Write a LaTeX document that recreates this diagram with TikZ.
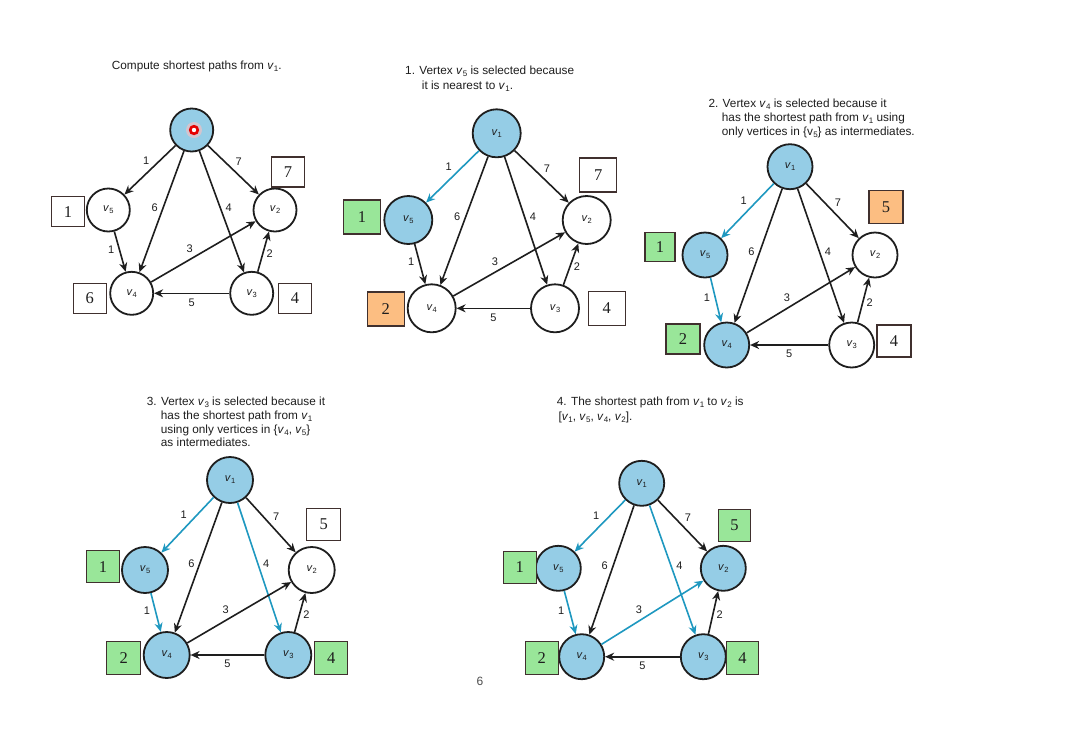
\documentclass[tikz,border=0pt]{standalone}
\usepackage{fontspec}
\setmainfont{Liberation Sans}
\newfontfamily\serifnum{Liberation Serif}
\usetikzlibrary{arrows.meta}
\definecolor{nodeblue}{RGB}{149,205,230}
\definecolor{edgeblue}{RGB}{30,152,192}
\definecolor{boxgreen}{RGB}{153,230,153}
\definecolor{boxorange}{RGB}{252,190,130}
\definecolor{boxline}{RGB}{64,48,46}
\definecolor{ink}{RGB}{30,30,30}
\newcommand\vsub[2]{\textit{v}\kern0.2pt\raisebox{-0.35ex}{\fontsize{#2}{#2}\selectfont #1}}
\newcommand\nv[1]{\vsub{#1}{7.5}}
\newcommand\tv[1]{\vsub{#1}{8}}
\begin{document}
\begin{tikzpicture}[x=1pt,y=-1pt,
 vtx/.style={circle,draw=ink,line width=1.8pt,inner sep=0pt,fill=white,font=\fontsize{11}{11}\selectfont,text=ink},
 seen/.style={vtx,fill=nodeblue},
 arr/.style={draw=ink,line width=1.6pt,-{Stealth[length=9pt,width=8pt]}},
 barr/.style={arr,draw=edgeblue},
 elab/.style={font=\fontsize{11}{11}\selectfont,text=ink,inner sep=1.5pt},
 dbox/.style={draw=boxline,line width=1.1pt,fill=white,font=\serifnum\fontsize{16.5}{16.5}\selectfont,text=ink,inner sep=0pt,minimum width=33pt,minimum height=31pt},
 gbox/.style={dbox,fill=boxgreen},
 obox/.style={dbox,fill=boxorange},
 ttl/.style={font=\fontsize{11.8}{11.8}\selectfont,text=ink,inner sep=0pt,anchor=base west},
]
\useasboundingbox (0,0) rectangle (1090,748);
\fill[white] (0,0) rectangle (1090,748);

% ---------------- Panel 1 ----------------
\node[ttl] (t1) at (111.7,69) {Compute shortest paths from \tv{1}.};
\node[seen,minimum size=43pt] (a1) at (191.7,130) {};
\node[vtx,minimum size=43pt] (a5) at (108.3,210) {\nv{5}};
\node[vtx,minimum size=43pt] (a2) at (275,210) {\nv{2}};
\node[vtx,minimum size=43pt] (a4) at (131.7,293.3) {\nv{4}};
\node[vtx,minimum size=43pt] (a3) at (251.7,293.3) {\nv{3}};
\draw[arr] (a1) -- node[elab,pos=.45,above left=1pt]{1} (a5);
\draw[arr] (a1) -- node[elab,pos=.48,above right=1pt]{7} (a2);
\draw[arr] (a1) -- node[elab,pos=.47,left=3pt]{6} (a4);
\draw[arr] (a1) -- node[elab,pos=.47,right=3pt]{4} (a3);
\draw[arr] (a5) -- node[elab,pos=.45,left=3pt]{1} (a4);
\draw[arr] (a4) -- node[elab,pos=.43,above left=1pt]{3} (a2);
\draw[arr] (a3) -- node[elab,pos=.45,right=1.5pt]{2} (a2);
\draw[arr] (a3) -- node[elab,pos=.5,below=3pt]{5} (a4);
\node[dbox,minimum width=33pt,minimum height=30pt] (ab1) at (68,211.7) {1};
\node[dbox,minimum width=33pt,minimum height=30pt] (ab2) at (288,172) {7};
\node[dbox,minimum width=33pt,minimum height=30pt] (ab4) at (89.7,298.3) {6};
\node[dbox,minimum width=33pt,minimum height=30pt] (ab3) at (295,298.3) {4};
\fill[red!25,opacity=.6] (194,130) circle (8);
\fill[red!90!black] (194,130) circle (5.2);
\fill[white] (194,130) circle (2.2);

% ---------------- Panel 2 ----------------
\node[ttl] (t2a) at (405,74) {1. Vertex \tv{5} is selected because};
\node[ttl] (t2b) at (421.7,89) {it is nearest to \tv{1}.};
\node[seen,minimum size=48pt] (b1) at (496.7,133.3) {\nv{1}};
\node[seen,minimum size=48pt] (b5) at (408.3,220) {\nv{5}};
\node[vtx,minimum size=48pt] (b2) at (586.7,220) {\nv{2}};
\node[vtx,minimum size=48pt] (b4) at (431.7,308.3) {\nv{4}};
\node[vtx,minimum size=48pt] (b3) at (555,308.3) {\nv{3}};
\draw[barr] (b1) -- node[elab,pos=.45,above left=1pt]{1} (b5);
\draw[arr] (b1) -- node[elab,pos=.48,above right=1pt]{7} (b2);
\draw[arr] (b1) -- node[elab,pos=.47,left=3pt]{6} (b4);
\draw[arr] (b1) -- node[elab,pos=.47,right=3pt]{4} (b3);
\draw[arr] (b5) -- node[elab,pos=.45,left=3pt]{1} (b4);
\draw[arr] (b4) -- node[elab,pos=.43,above left=1pt]{3} (b2);
\draw[arr] (b3) -- node[elab,pos=.45,right=1.5pt]{2} (b2);
\draw[arr] (b3) -- node[elab,pos=.5,below=3pt]{5} (b4);
\node[gbox,minimum width=37pt,minimum height=34pt] (bb1) at (362,217) {1};
\node[dbox,minimum width=37pt,minimum height=34pt] (bb2) at (598.3,175) {7};
\node[obox,minimum width=37pt,minimum height=34pt] (bb4) at (385.7,309) {2};
\node[dbox,minimum width=37pt,minimum height=34pt] (bb3) at (606.7,308.3) {4};

% ---------------- Panel 3 ----------------
\node[ttl] (t3a) at (708.3,107.3) {2. Vertex \tv{4} is selected because it};
\node[ttl] (t3b) at (721.7,121.3) {has the shortest path from \tv{1} using};
\node[ttl] (t3c) at (721.7,135.7) {only vertices in \{v\kern0.2pt\raisebox{-0.35ex}{\fontsize{8}{8}\selectfont 5}\} as intermediates.};
\node[seen,minimum size=45pt] (c1) at (790,166.7) {\nv{1}};
\node[seen,minimum size=45pt] (c5) at (705,255) {\nv{5}};
\node[vtx,minimum size=45pt] (c2) at (875,255) {\nv{2}};
\node[seen,minimum size=45pt] (c4) at (726.7,345) {\nv{4}};
\node[vtx,minimum size=45pt] (c3) at (851.7,345) {\nv{3}};
\draw[barr] (c1) -- node[elab,pos=.45,above left=1pt]{1} (c5);
\draw[arr] (c1) -- node[elab,pos=.48,above right=1pt]{7} (c2);
\draw[arr] (c1) -- node[elab,pos=.47,left=3pt]{6} (c4);
\draw[arr] (c1) -- node[elab,pos=.47,right=3pt]{4} (c3);
\draw[barr] (c5) -- node[elab,pos=.45,left=3pt]{1} (c4);
\draw[arr] (c4) -- node[elab,pos=.43,above left=1pt]{3} (c2);
\draw[arr] (c3) -- node[elab,pos=.45,right=1.5pt]{2} (c2);
\draw[arr] (c3) -- node[elab,pos=.5,below=3pt]{5} (c4);
\node[gbox,minimum width=30pt,minimum height=29pt] (cb1) at (660,247) {1};
\node[obox,minimum width=34pt,minimum height=33pt] (cb2) at (886,206.7) {5};
\node[gbox,minimum width=34pt,minimum height=30pt] (cb4) at (683,339) {2};
\node[dbox,minimum width=34pt,minimum height=32pt] (cb3) at (894,341) {4};

% ---------------- Panel 4 ----------------
\node[ttl] (t4a) at (146.7,405.7) {3. Vertex \tv{3} is selected because it};
\node[ttl] (t4b) at (160.7,419) {has the shortest path from \tv{1}};
\node[ttl] (t4c) at (160.7,433) {using only vertices in \{\tv{4}, \tv{5}\}};
\node[ttl] (t4d) at (160.7,446.7) {as intermediates.};
\node[seen,minimum size=46pt] (d1) at (230,480) {\nv{1}};
\node[seen,minimum size=46pt] (d5) at (145,570) {\nv{5}};
\node[vtx,minimum size=46pt] (d2) at (311.7,570) {\nv{2}};
\node[seen,minimum size=46pt] (d4) at (166.7,655) {\nv{4}};
\node[seen,minimum size=46pt] (d3) at (288.3,655) {\nv{3}};
\draw[barr] (d1) -- node[elab,pos=.45,above left=1pt]{1} (d5);
\draw[arr] (d1) -- node[elab,pos=.48,above right=1pt]{7} (d2);
\draw[arr] (d1) -- node[elab,pos=.47,left=3pt]{6} (d4);
\draw[barr] (d1) -- node[elab,pos=.47,right=3pt]{4} (d3);
\draw[barr] (d5) -- node[elab,pos=.45,left=3pt]{1} (d4);
\draw[arr] (d4) -- node[elab,pos=.43,above left=1pt]{3} (d2);
\draw[arr] (d3) -- node[elab,pos=.45,right=1.5pt]{2} (d2);
\draw[arr] (d3) -- node[elab,pos=.5,below=3pt]{5} (d4);
\node[gbox,minimum width=33pt,minimum height=32pt] (db1) at (103,566.7) {1};
\node[dbox,minimum width=34pt,minimum height=32pt] (db2) at (323.8,524.5) {5};
\node[gbox,minimum width=34pt,minimum height=33pt] (db4) at (123.8,658.3) {2};
\node[gbox,minimum width=33pt,minimum height=33pt] (db3) at (331.3,658.3) {4};

% ---------------- Panel 5 ----------------
\node[ttl] (t5a) at (556.7,405.7) {4. The shortest path from \tv{1} to \tv{2} is};
\node[ttl] (t5b) at (558.3,420) {[\tv{1}, \tv{5}, \tv{4}, \tv{2}].};
\node[seen,minimum size=45pt] (e1) at (641.7,483.3) {\nv{1}};
\node[seen,minimum size=45pt] (e5) at (558.3,568.3) {\nv{5}};
\node[seen,minimum size=45pt] (e2) at (723.3,568.3) {\nv{2}};
\node[seen,minimum size=45pt] (e4) at (581.7,656.7) {\nv{4}};
\node[seen,minimum size=45pt] (e3) at (703.3,656.7) {\nv{3}};
\draw[barr] (e1) -- node[elab,pos=.45,above left=1pt]{1} (e5);
\draw[arr] (e1) -- node[elab,pos=.48,above right=1pt]{7} (e2);
\draw[arr] (e1) -- node[elab,pos=.47,left=3pt]{6} (e4);
\draw[barr] (e1) -- node[elab,pos=.47,right=3pt]{4} (e3);
\draw[barr] (e5) -- node[elab,pos=.45,left=3pt]{1} (e4);
\draw[barr] (e4) -- node[elab,pos=.43,above left=1pt]{3} (e2);
\draw[arr] (e3) -- node[elab,pos=.45,right=1.5pt]{2} (e2);
\draw[arr] (e3) -- node[elab,pos=.5,below=3pt]{5} (e4);
\node[gbox,minimum width=33pt,minimum height=32pt] (eb1) at (519.7,567.5) {1};
\node[gbox,minimum width=32pt,minimum height=32pt] (eb2) at (734.5,525.5) {5};
\node[gbox,minimum width=33pt,minimum height=33pt] (eb4) at (541.7,658.3) {2};
\node[gbox,minimum width=32pt,minimum height=33pt] (eb3) at (742.5,658.3) {4};

\node[font=\fontsize{12}{12}\selectfont,text=black!70] (pg) at (480,681) {6};
\end{tikzpicture}
\end{document}
